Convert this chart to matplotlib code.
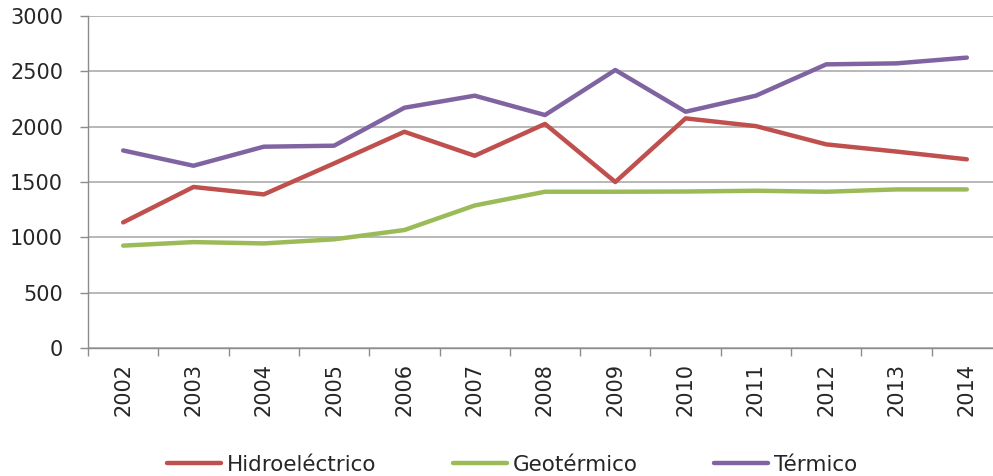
import matplotlib
matplotlib.use("Agg")
import matplotlib.pyplot as plt
from matplotlib.ticker import FixedLocator

years = ["2002", "2003", "2004", "2005", "2006", "2007", "2008",
         "2009", "2010", "2011", "2012", "2013", "2014"]
hidroelectrico = [1135, 1455, 1388, 1668, 1954, 1737, 2025,
                  1500, 2075, 2005, 1840, 1775, 1705]
geotermico = [925, 957, 945, 982, 1066, 1288, 1412,
              1412, 1414, 1421, 1412, 1433, 1433]
termico = [1785, 1647, 1819, 1828, 2171, 2280, 2105,
           2512, 2135, 2280, 2563, 2572, 2624]

series = [
    ("Hidroeléctrico", hidroelectrico, "#C0504D"),
    ("Geotérmico", geotermico, "#9BBB59"),
    ("Térmico", termico, "#8064A2"),
]

text_color = "#262626"
grid_color = "#ABABAB"
axis_color = "#8C8C8C"

fig = plt.figure(figsize=(9.93, 4.76), dpi=100)
ax = fig.add_axes([88 / 993, 1 - 348 / 476, 914 / 993, 332 / 476])

x = list(range(len(years)))
for name, values, color in series:
    ax.plot(x, values, color=color, lw=3.2, label=name,
            solid_capstyle="round", solid_joinstyle="round")

ax.set_xlim(-0.5, len(years) - 0.5)
ax.set_ylim(0, 3000)
ax.set_yticks(range(0, 3001, 500))
ax.yaxis.grid(True, color=grid_color, lw=1.2)
ax.set_axisbelow(True)

for side in ("top", "right"):
    ax.spines[side].set_visible(False)
for side in ("left", "bottom"):
    ax.spines[side].set_color(axis_color)
    ax.spines[side].set_linewidth(1.0)

ax.set_xticks(x)
ax.set_xticklabels(years, rotation=90,
                   family=["DejaVu Sans Condensed", "DejaVu Sans"],
                   fontsize=15, color=text_color)
ax.xaxis.set_minor_locator(FixedLocator([i - 0.5 for i in range(len(years) + 1)]))
ax.tick_params(axis="x", which="major", length=0, pad=11)
ax.tick_params(axis="x", which="minor", length=6, width=1.0, color=axis_color)
ax.tick_params(axis="y", length=6, width=1.0, color=axis_color, pad=12,
               labelsize=15, labelcolor=text_color)

fig.legend(loc="center", bbox_to_anchor=(0.516, 0.024), ncol=3, frameon=False,
           fontsize=15.5, handlelength=2.5, handletextpad=0.28,
           columnspacing=3.55, labelcolor=text_color)

fig.savefig("out.png", dpi=100)
